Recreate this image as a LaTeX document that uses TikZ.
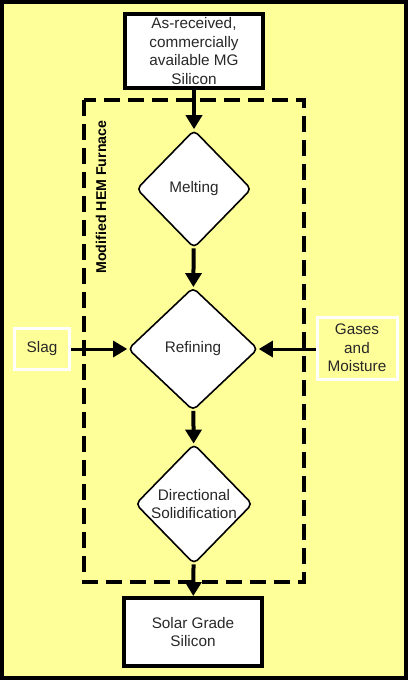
\documentclass[tikz,border=0pt]{standalone}
\usepackage{fontspec}
\setmainfont{Liberation Sans}
\usetikzlibrary{shapes.geometric,arrows.meta}
\definecolor{paleyellow}{RGB}{255,255,153}
\definecolor{textgrey}{RGB}{40,40,40}
\begin{document}
\begin{tikzpicture}[x=1pt,y=-1pt]
        \tikzstyle{every node}=[font=\fontsize{15.3}{18.5}\selectfont,text=textgrey,align=center]
        \tikzstyle{stepbox}=[draw,line width=4pt,fill=white,minimum width=138pt,inner sep=0pt]
        \tikzstyle{decision}=[draw,diamond,line width=1.6pt,fill=white,rounded corners=5pt,inner sep=0pt]
        \tikzstyle{inputbox}=[draw=white,line width=3pt,fill=paleyellow,inner sep=0pt]
        \tikzstyle{flow}=[line width=4pt,-{Triangle[length=14pt,width=16pt]}]
        \useasboundingbox (0,0) rectangle (408,680);
        \draw[line width=4pt,fill=paleyellow] (2,2) rectangle (406,678);
        % Furnace
        \draw[line width=4pt,dash pattern=on 16pt off 8pt] (84,100) rectangle (304,582);
        \node[rotate=90,font=\fontsize{14.2}{16}\selectfont\bfseries,text=black] (furnace) at (101,197) {Modified HEM Furnace};
        % Flow
        \node[stepbox,minimum height=74pt] (raw) at (194,51) {As-received,\\commercially\\available MG\\Silicon};
        \node[decision,minimum width=115pt,minimum height=118pt] (melt) at (194,189) {Melting};
        \node[decision,minimum width=130pt,minimum height=123pt] (refine) at (193,349) {Refining};
        \node[decision,minimum width=117pt,minimum height=120pt] (solid) at (194,504) {Directional\\Solidification};
        \node[stepbox,minimum height=68pt] (sog) at (193,632) {Solar Grade\\Silicon};
        % Inputs
        \node[inputbox,minimum width=55pt,minimum height=41pt] (slag) at (42,349) {Slag};
        \node[inputbox,minimum width=80pt,minimum height=62pt] (gas) at (357,348) {Gases\\and\\Moisture};
        \draw[flow] (raw)--(melt);
        \draw[flow] (melt)--(refine);
        \draw[flow] (refine)--(solid);
        \draw[flow] (solid)--(sog);
        \draw[flow,line width=3pt] (slag)--(refine);
        \draw[flow,line width=3pt] (gas.west |- refine)--(refine);
    \end{tikzpicture}
\end{document}
